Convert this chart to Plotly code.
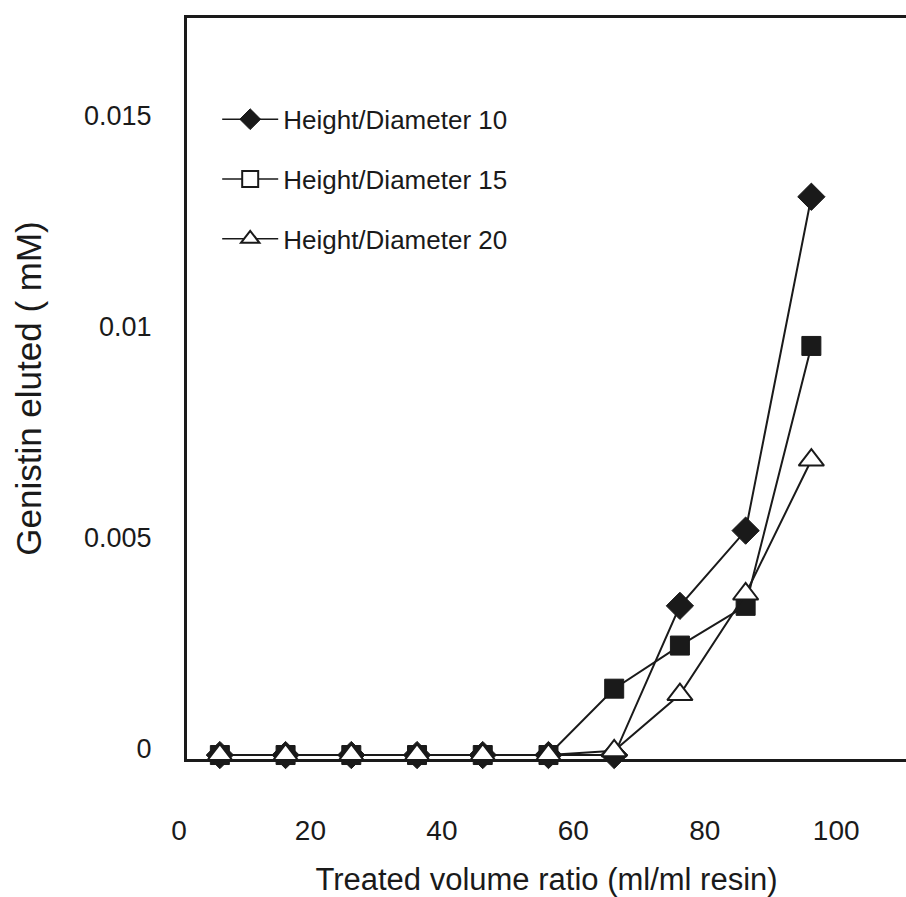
import plotly.graph_objects as go

x_vals = [5, 15, 25, 35, 45, 55, 65, 75, 85, 95]
hd10 = [0, 0, 0, 0, 0, 0, 0, 0.00353, 0.00531, 0.01321]
hd15 = [0, 0, 0, 0, 0, 0, 0.00157, 0.00259, 0.00353, 0.00968]
hd20 = [0, 0, 0, 0, 0, 0, 0.0001, 0.00143, 0.00381, 0.00698]
names = ["Height/Diameter 10", "Height/Diameter 15", "Height/Diameter 20"]
x_ticks = [0, 20, 40, 60, 80, 100]
y_ticks = [0, 0.005, 0.01, 0.015]
y_tick_text = ["0", "0.005", "0.01", "0.015"]

ink = "#1a1a1a"
fig = go.Figure()

# data traces (no legend)
fig.add_trace(go.Scatter(x=x_vals, y=hd10, mode="lines+markers", showlegend=False,
                         line=dict(color=ink, width=2),
                         marker=dict(symbol="diamond", size=21, color=ink,
                                     line=dict(color=ink, width=1)),
                         cliponaxis=False))
fig.add_trace(go.Scatter(x=x_vals, y=hd15, mode="lines+markers", showlegend=False,
                         line=dict(color=ink, width=2),
                         marker=dict(symbol="square", size=19, color=ink,
                                     line=dict(color=ink, width=1)),
                         cliponaxis=False))
fig.add_trace(go.Scatter(x=x_vals, y=hd20, mode="lines+markers", showlegend=False,
                         line=dict(color=ink, width=2),
                         marker=dict(symbol="triangle-up", size=22, color="white",
                                     line=dict(color=ink, width=2)),
                         cliponaxis=False))

# legend entries
leg_markers = [dict(symbol="diamond", size=24, color=ink, line=dict(color=ink, width=1)),
               dict(symbol="square", size=18, color="white", line=dict(color=ink, width=2)),
               dict(symbol="triangle-up", size=21, color="white", line=dict(color=ink, width=2))]
for i, (nm, mk) in enumerate(zip(names, leg_markers)):
    fig.add_trace(go.Scatter(x=[None], y=[None], mode="lines+markers", name=nm,
                             legendgroup=f"g{i}",
                             line=dict(color=ink, width=1.5), marker=mk))

fig.update_layout(
    width=906, height=897,
    margin=dict(l=187, r=0, t=18, b=131),
    paper_bgcolor="white", plot_bgcolor="white",
    font=dict(family="Liberation Sans, Arial, sans-serif", color=ink),
    showlegend=True,
    legend=dict(x=0.042, y=0.895, xanchor="left", yanchor="top",
                font=dict(size=26, color=ink), bgcolor="rgba(0,0,0,0)",
                traceorder="grouped", tracegroupgap=23, itemwidth=56),
    xaxis=dict(range=[0, 109.4], tickvals=x_ticks, ticks="", showgrid=False,
               zeroline=False, showline=True, linecolor=ink, linewidth=3,
               mirror=True, tickfont=dict(size=28, color=ink),
               ticklabelstandoff=44, ticklabelshift=-8,
               title=dict(text="Treated volume ratio (ml/ml resin)",
                          font=dict(size=31, color=ink), standoff=30)),
    yaxis=dict(range=[-0.000094, 0.01744], tickvals=y_ticks, ticktext=y_tick_text,
               ticks="", showgrid=False, zeroline=False, showline=True,
               linecolor=ink, linewidth=3, tickfont=dict(size=27, color=ink),
               ticklabelstandoff=27, ticklabelshift=-6,
               title=dict(text="Genistin eluted ( mM)",
                          font=dict(size=35, color=ink), standoff=32)),
)

fig.write_html("out.html")
